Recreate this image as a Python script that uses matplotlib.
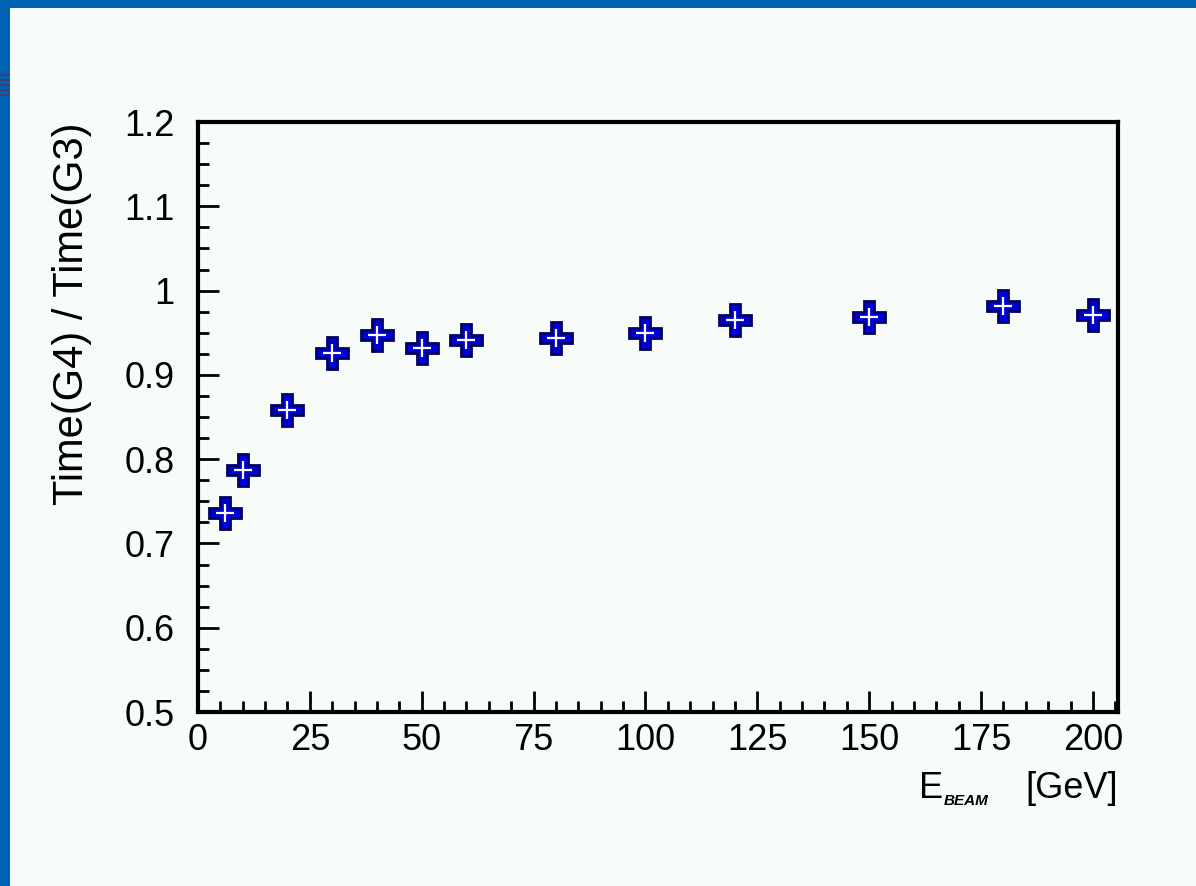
import matplotlib.pyplot as plt
from matplotlib.ticker import MultipleLocator
from matplotlib.patches import Rectangle

plt.rcParams["font.family"] = ["Liberation Sans", "DejaVu Sans"]

# beam energy [GeV] and ratio of CPU times G4 / G3
energies = [6, 10, 20, 30, 40, 50, 60, 80, 100, 120, 150, 180, 200]
time_ratio = [0.736, 0.787, 0.858, 0.926, 0.947, 0.932, 0.941,
              0.944, 0.950, 0.965, 0.969, 0.982, 0.971]

x_ticks = [0, 25, 50, 75, 100, 125, 150, 175, 200]
y_ticks = [0.5, 0.6, 0.7, 0.8, 0.9, 1.0, 1.1, 1.2]
y_tick_labels = ["0.5", "0.6", "0.7", "0.8", "0.9", "1", "1.1", "1.2"]

bg = "#f7fcf8"
frame_blue = "#0062b0"
W, H = 1196, 886

fig = plt.figure(figsize=(W / 100, H / 100), dpi=100, facecolor=bg)

# slide frame (blue band at top and left)
fig.patches.append(Rectangle((0, 1 - 8 / H), 1, 8 / H, transform=fig.transFigure,
                             facecolor=frame_blue, edgecolor="none", zorder=0))
fig.patches.append(Rectangle((0, 0), 10 / W, 1, transform=fig.transFigure,
                             facecolor=frame_blue, edgecolor="none", zorder=0))
for yy in [76, 81, 86, 91, 96]:
    fig.patches.append(Rectangle((0, 1 - yy / H), 10 / W, 2 / H, transform=fig.transFigure,
                                 facecolor="#3a3f7a", edgecolor="none", zorder=1))

ax = fig.add_axes([198 / W, 1 - 712 / H, 920 / W, 590 / H])
ax.set_facecolor(bg)

ax.plot(energies, time_ratio, linestyle="none", marker="P", markersize=23,
        markerfacecolor="#0000d8", markeredgecolor="#00006a", markeredgewidth=2,
        zorder=3)
ax.plot(energies, time_ratio, linestyle="none", marker="+", markersize=13,
        markeredgecolor="white", markeredgewidth=1.6, zorder=4)

ax.set_xlim(0, 205.6)
ax.set_ylim(0.5, 1.2)

ax.set_xticks(x_ticks)
ax.set_xticklabels([str(v) for v in x_ticks])
ax.set_yticks(y_ticks)
ax.set_yticklabels(y_tick_labels)
ax.xaxis.set_minor_locator(MultipleLocator(5))
ax.yaxis.set_minor_locator(MultipleLocator(0.025))

for side in ax.spines.values():
    side.set_linewidth(3)
ax.tick_params(axis="both", which="major", direction="in", width=2, length=15,
               labelsize=26, top=False, right=False)
ax.tick_params(axis="both", which="minor", direction="in", width=2, length=8,
               top=False, right=False)
ax.tick_params(axis="x", which="major", pad=8)
ax.tick_params(axis="y", which="major", pad=17)

fig.text(72 / W, 1 - 314 / H, "Time(G4) / Time(G3)", rotation=90,
         ha="center", va="center", fontsize=30)
fig.text(919 / W, 1 - 798 / H, "E", ha="left", va="baseline", fontsize=26)
fig.text(944 / W, 1 - 805 / H, "BEAM", ha="left", va="baseline", fontsize=11,
         fontweight="bold", fontstyle="italic")
fig.text(1118 / W, 1 - 798 / H, "[GeV]", ha="right", va="baseline", fontsize=26)

fig.savefig("out.png", dpi=100, facecolor=bg)
